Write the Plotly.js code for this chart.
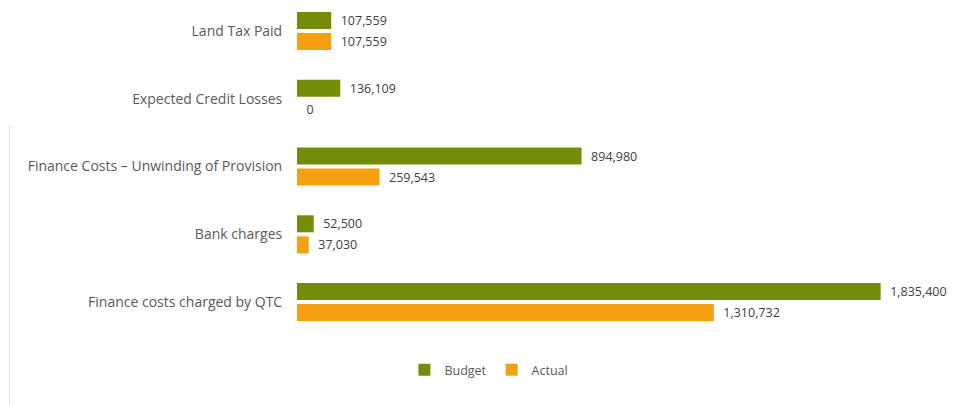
<!DOCTYPE html>
<html>
<head>
<meta charset="utf-8">
<script src="https://cdn.plot.ly/plotly-3.0.1.min.js"></script>
<style>
  html, body { margin: 0; padding: 0; background: #ffffff; }
  #chart { width: 972px; height: 405px; position: relative; }
  #edge { position: absolute; left: 9px; top: 125px; width: 1px; height: 280px; background: #e3e3e3; }
</style>
</head>
<body>
<div id="chart"></div>
<div id="edge"></div>
<script>
const categories = [
  "Land Tax Paid",
  "Expected Credit Losses",
  "Finance Costs – Unwinding of Provision",
  "Bank charges",
  "Finance costs charged by QTC"
];
const budgetValues = [107559, 136109, 894980, 52500, 1835400];
const actualValues = [107559, 0, 259543, 37030, 1310732];
const seriesNames = ["Budget", "Actual"];
const seriesColors = ["#738d0a", "#f5a011"];

const FONT = "'Open Sans', Lato, sans-serif";
const labelFont = { family: FONT, size: 12.5, color: "#404040" };

const traces = [
  {
    type: "bar", orientation: "h", name: seriesNames[0],
    y: categories, x: budgetValues,
    marker: { color: seriesColors[0] },
    texttemplate: "\u00a0\u00a0%{x:,}", textposition: "outside",
    textfont: labelFont, cliponaxis: false, hoverinfo: "x+y"
  },
  {
    type: "bar", orientation: "h", name: seriesNames[1],
    y: categories, x: actualValues,
    marker: { color: seriesColors[1] },
    texttemplate: "\u00a0\u00a0%{x:,}", textposition: "outside",
    textfont: labelFont, cliponaxis: false, hoverinfo: "x+y"
  }
];

const layout = {
  width: 972, height: 405,
  margin: { l: 297, r: 39, t: 0, b: 69 },
  paper_bgcolor: "#ffffff", plot_bgcolor: "#ffffff",
  barmode: "group", bargap: 0.38, bargroupgap: 0.19,
  font: { family: FONT, size: 12, color: "#595959" },
  xaxis: {
    range: [0, 2000000], showgrid: false, zeroline: false,
    showticklabels: false, showline: false, fixedrange: true
  },
  yaxis: {
    type: "category", range: [4.5, -0.4576], showgrid: false, zeroline: false,
    showline: false, ticks: "outside", ticklen: 11, tickcolor: "rgba(0,0,0,0)",
    tickfont: { family: FONT, size: 14, color: "#595959" },
    fixedrange: true
  },
  showlegend: true,
  legend: {
    orientation: "h", xref: "container", yref: "container",
    x: 0.503, xanchor: "center", y: 0.086, yanchor: "middle",
    font: { family: FONT, size: 12.5, color: "#595959" },
    itemwidth: 30, traceorder: "normal"
  }
};

Plotly.newPlot("chart", traces, layout, { displayModeBar: false, staticPlot: true });
</script>
</body>
</html>
